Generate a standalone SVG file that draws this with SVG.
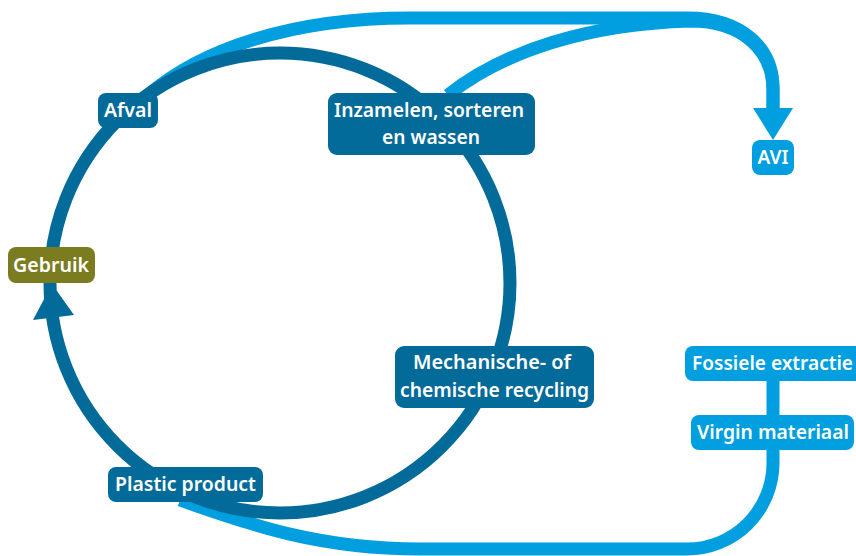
<svg xmlns="http://www.w3.org/2000/svg" width="856" height="556" viewBox="0 0 856 556">
  <style>
    .lb { fill: none; stroke: #019FE0; stroke-width: 13; }
    .db { fill: none; stroke: #036B99; stroke-width: 13; }
    .box-d { fill: #036B99; }
    .box-l { fill: #019FE0; }
    .box-g { fill: #7B7B1F; }
    text { font-family: "Noto Sans", "Open Sans", "Liberation Sans", sans-serif; font-weight: 600; font-size: 19px; fill: #ffffff; text-anchor: middle; }
  </style>
  <rect width="856" height="556" fill="#ffffff"/>
  <g id="connectors">
    <path class="lb" d="M448,95 C505,50 590,24 690,21 C742,21 773,50 773,90 V110"/>
    <path class="lb" d="M148,95 C200,50 290,18 410,18 H687 C742,18 773,48 773,88 V110"/>
    <polygon fill="#019FE0" points="753,108 793,108 773,140"/>
    <path class="lb" d="M773,381 V416"/>
    <path class="lb" d="M773,449 V463 A86,86 0 0 1 687,549 H420 C320,549 250,525 180,500"/>
    <circle class="db" cx="280" cy="283" r="230"/>
    <polygon fill="#036B99" points="52,284 33,320 74,315"/>
  </g>
  <g id="afval">
    <rect class="box-d" x="98" y="93" width="60" height="35" rx="8"/>
    <text x="128" y="117" textLength="48" lengthAdjust="spacingAndGlyphs">Afval</text>
  </g>
  <g id="inzamelen">
    <rect class="box-d" x="328" y="93" width="207" height="62" rx="9"/>
    <text x="429" y="117" textLength="190" lengthAdjust="spacingAndGlyphs">Inzamelen, sorteren</text>
    <text x="431" y="144" textLength="98" lengthAdjust="spacingAndGlyphs">en wassen</text>
  </g>
  <g id="avi">
    <rect class="box-l" x="752" y="140" width="42" height="35" rx="8"/>
    <text x="773" y="164" textLength="31" lengthAdjust="spacingAndGlyphs">AVI</text>
  </g>
  <g id="gebruik">
    <rect class="box-g" x="8" y="247" width="87" height="36" rx="8"/>
    <text x="51" y="272" textLength="76" lengthAdjust="spacingAndGlyphs">Gebruik</text>
  </g>
  <g id="recycling">
    <rect class="box-d" x="395" y="346" width="199" height="62" rx="9"/>
    <text x="492" y="369" textLength="158" lengthAdjust="spacingAndGlyphs">Mechanische- of</text>
    <text x="494.5" y="397" textLength="189" lengthAdjust="spacingAndGlyphs">chemische recycling</text>
  </g>
  <g id="plastic-product">
    <rect class="box-d" x="108" y="467" width="155" height="35" rx="8"/>
    <text x="185.5" y="491" textLength="141" lengthAdjust="spacingAndGlyphs">Plastic product</text>
  </g>
  <g id="fossiele-extractie">
    <rect class="box-l" x="685" y="346" width="190" height="35" rx="8"/>
    <text x="772.5" y="370" textLength="161" lengthAdjust="spacingAndGlyphs">Fossiele extractie</text>
  </g>
  <g id="virgin-materiaal">
    <rect class="box-l" x="691" y="415" width="163" height="35" rx="8"/>
    <text x="773" y="439" textLength="152" lengthAdjust="spacingAndGlyphs">Virgin materiaal</text>
  </g>
</svg>
